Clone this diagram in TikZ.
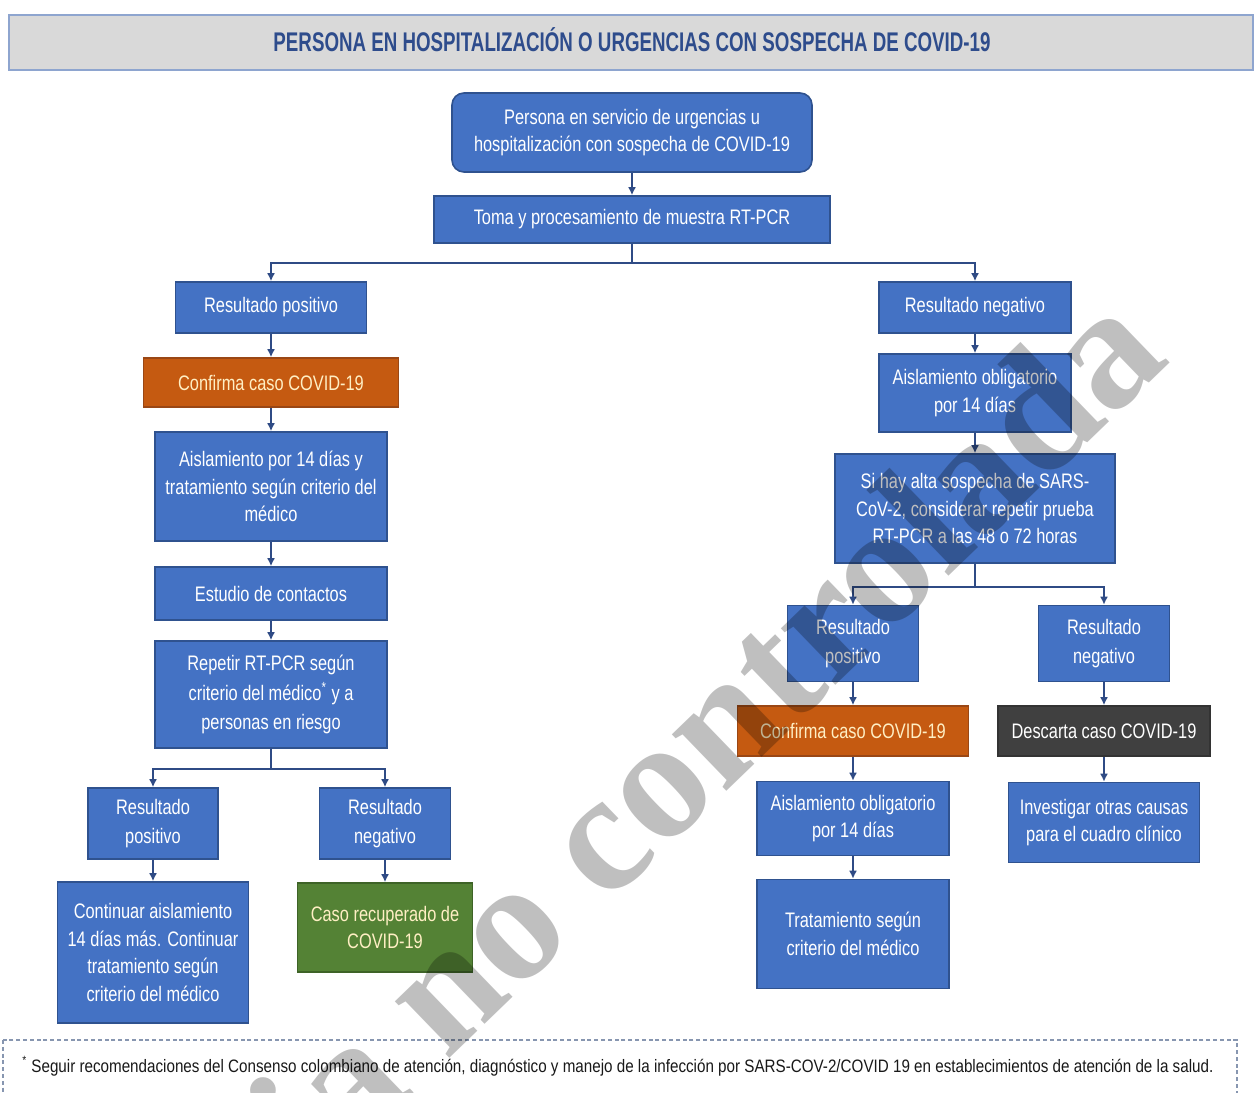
\documentclass[tikz,border=0pt]{standalone}
\usepackage{fontspec}
\usepackage{graphicx}
\setmainfont{Liberation Sans}[FakeStretch=0.78]
\newfontfamily\wmfont{Liberation Serif}
\newfontfamily\widefont{Liberation Sans}
\usetikzlibrary{arrows.meta}
\definecolor{boxblue}{HTML}{4472C4}
\definecolor{boxline}{HTML}{2F528F}
\definecolor{orangebox}{HTML}{C55A11}
\definecolor{orangeline}{HTML}{9A4715}
\definecolor{greenbox}{HTML}{548235}
\definecolor{greenline}{HTML}{3E6327}
\definecolor{greybox}{HTML}{404040}
\definecolor{lineblue}{HTML}{2F4B85}
\definecolor{titlefill}{HTML}{D9D9D9}
\definecolor{titleline}{HTML}{8EA5CF}
\definecolor{titletext}{HTML}{2E4C8C}
\definecolor{noteline}{HTML}{8796B0}
\definecolor{paletext}{HTML}{FFEFC4}
\tikzset{
  x=0.5pt, y=-0.5pt,
  sz/.style 2 args={minimum width=#1*0.5pt, minimum height=#2*0.5pt},
  box/.style={draw=boxline, fill=boxblue, text=white, line width=0.8pt,
    align=center, inner sep=0pt,
    font=\fontsize{10.5}{13.8}\selectfont},
  orangestep/.style={box, draw=orangeline, fill=orangebox, text=paletext},
  greenstep/.style={box, draw=greenline, fill=greenbox, text=paletext},
  greystep/.style={box, draw=greybox!80!black, fill=greybox, text=white},
  conn/.style={draw=lineblue, line width=1.1pt, -{Latex[length=4pt,width=4pt]}},
}
\begin{document}
\begin{tikzpicture}
\useasboundingbox (0,0) rectangle (1254,1093);
\fill[white] (0,0) rectangle (1254,1093);

% header banner
\node[draw=titleline, fill=titlefill, line width=1.4pt, sz={1244}{55}] (title) at (631,42.5) {};
\node[anchor=base, text=titletext] (titletxt) at (632,51)
  {\resizebox{358.5pt}{\height}{\widefont\bfseries\fontsize{13.5}{15}\selectfont PERSONA EN HOSPITALIZACIÓN O URGENCIAS CON SOSPECHA DE COVID-19}};

% common trunk
\node[box, rounded corners=6pt, sz={360}{79}] (start) at (632,132.5)
  {\rule{0pt}{6pt}Persona en servicio de urgencias u\\hospitalización con sospecha de COVID-19};
\node[box, sz={396}{47}] (sample) at (632,219.5) {Toma y procesamiento de muestra RT-PCR};

% positive branch
\node[box, sz={191}{51}] (pos) at (271,307.5) {Resultado positivo};
\node[orangestep, sz={255}{49}] (conf) at (271,382.5) {Confirma caso COVID-19};
\node[box, sz={232}{109}] (isol) at (271,486.5)
  {Aislamiento por 14 días y\\tratamiento según criterio del\\médico};
\node[box, sz={232}{53}] (contacts) at (271,593.5) {Estudio de contactos};
\node[box, sz={232}{107}] (repeat) at (271,694.5)
  {Repetir RT-PCR según\\[1pt]criterio del médico\textsuperscript{*} y a\\[1pt]personas en riesgo};
\node[box, sz={130}{71}] (repos) at (153,823.5) {Resultado\\[1pt]positivo};
\node[box, sz={131}{71}] (reneg) at (385,823.5) {Resultado\\[1pt]negativo};
\node[box, sz={191}{141}] (cont) at (153,952.5)
  {Continuar aislamiento\\14 días más. Continuar\\tratamiento según\\criterio del médico};
\node[greenstep, sz={175}{89}] (recov) at (385,927.5) {Caso recuperado de\\COVID-19};

% negative branch
\node[box, sz={192}{51}] (neg) at (975,307.5) {Resultado negativo};
\node[box, sz={192}{78}] (nisol) at (975,393) {Aislamiento obligatorio\\por 14 días};
\node[box, sz={280}{109}] (suspect) at (975,508.5)
  {Si hay alta sospecha de SARS-\\CoV-2, considerar repetir prueba\\RT-PCR a las 48 o 72 horas};
\node[box, sz={131}{76}] (npos) at (853,643.5) {Resultado\\[1pt]positivo};
\node[box, sz={131}{76}] (nneg) at (1104,643.5) {Resultado\\[1pt]negativo};
\node[orangestep, sz={231}{50}] (nconf) at (853,731) {Confirma caso COVID-19};
\node[greystep, sz={212}{50}] (discard) at (1104,731) {Descarta caso COVID-19};
\node[box, sz={192}{74}] (nisol2) at (853,818.5) {Aislamiento obligatorio\\por 14 días};
\node[box, sz={191}{80}] (other) at (1104,822.5) {Investigar otras causas\\para el cuadro clínico};
\node[box, sz={192}{109}] (treat) at (853,934) {Tratamiento según\\criterio del médico};

% connectors
\draw[conn] (start) -- (sample);
\draw[conn] (sample.south) -- ++(0,19.5) -| (pos.north);
\draw[conn] (sample.south) -- ++(0,19.5) -| (neg.north);
\draw[conn] (pos) -- (conf);
\draw[conn] (conf) -- (isol);
\draw[conn] (isol) -- (contacts);
\draw[conn] (contacts) -- (repeat);
\draw[conn] (repeat.south) -- ++(0,20) -| (repos.north);
\draw[conn] (repeat.south) -- ++(0,20) -| (reneg.north);
\draw[conn] (repos) -- (cont);
\draw[conn] (reneg) -- (recov);
\draw[conn] (neg) -- (nisol);
\draw[conn] (nisol) -- (suspect);
\draw[conn] (suspect.south) -- ++(0,23) -| (npos.north);
\draw[conn] (suspect.south) -- ++(0,23) -| (nneg.north);
\draw[conn] (npos) -- (nconf);
\draw[conn] (nconf) -- (nisol2);
\draw[conn] (nisol2) -- (treat);
\draw[conn] (nneg) -- (discard);
\draw[conn] (discard) -- (other);

% footnote
\draw[noteline, line width=0.6pt, dash pattern=on 2pt off 1.4pt] (3,1040) rectangle (1237,1110);
\node[anchor=base west, inner sep=0pt, text=black!90] (note) at (22,1072)
  {\resizebox{595.5pt}{\height}{\widefont\fontsize{9}{10}\selectfont\textsuperscript{*} Seguir recomendaciones del Consenso colombiano de atención, diagnóstico y manejo de la infección por SARS-COV-2/COVID 19 en establecimientos de atención de la salud.}};

% overlay stamp
\begin{scope}
\clip (0,0) rectangle (1254,1093);
\node[rotate=44, anchor=base west, inner sep=0pt, text=black, text opacity=0.25,
  font=\wmfont\bfseries\fontsize{85.5}{85.5}\selectfont] (stamp) at (446,1062)
  {\llap{Copia }no controlada};
\end{scope}
\end{tikzpicture}
\end{document}
